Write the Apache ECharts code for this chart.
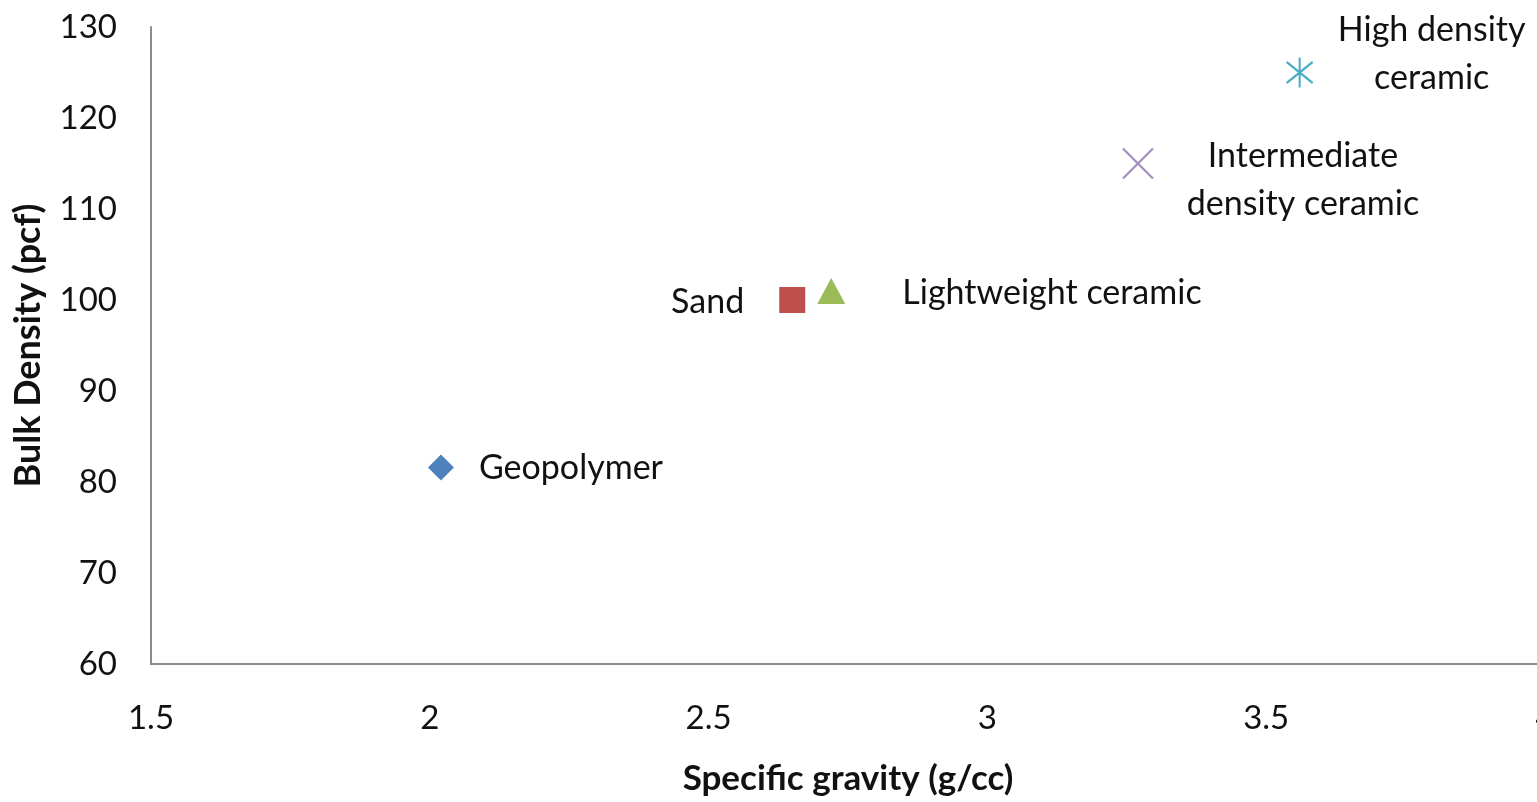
<!DOCTYPE html>
<html>
<head>
<meta charset="utf-8">
<title>Bulk density vs specific gravity</title>
<script src="https://cdn.jsdelivr.net/npm/echarts@6/dist/echarts.min.js"></script>
<style>
  html, body { margin: 0; padding: 0; background: #fff; }
  #chart { width: 1537px; height: 802px; }
</style>
</head>
<body>
<div id="chart"></div>
<script>
// Materials plotted: specific gravity (g/cc) vs bulk density (pcf)
const materials = ['Geopolymer', 'Sand', 'Lightweight ceramic', 'Intermediate\ndensity ceramic', 'High density\nceramic'];
const specificGravity = [2.02, 2.65, 2.72, 3.27, 3.56];
const bulkDensity = [81.6, 100, 101, 115, 125];

const FONT = 'Lato, "Open Sans", sans-serif';
const colors = ['#4f81bd', '#c0504d', '#9bbb59', '#a48dc3', '#4bacc6'];
const symbols = [
  'diamond',
  'rect',
  'triangle',
  'path://M0,0 L10,10 M0,10 L10,0',
  'path://M5,0 L5,10 M0.8,1.5 L9.2,8.5 M0.8,8.5 L9.2,1.5'
];
const sizes = [[26, 26], [26, 26], [28, 26], [30, 30], [26, 30]];
const stroked = [false, false, false, true, true];
// label placement relative to each marker centre
const labelOffsets = [[38, 1], [-48, 2], [71, 2], [165, 17], [132, -18]];
const labelAligns = ['left', 'right', 'left', 'center', 'center'];

const series = materials.map((name, i) => ({
  type: 'scatter',
  name: name,
  data: [[specificGravity[i], bulkDensity[i]]],
  symbol: symbols[i],
  symbolSize: sizes[i],
  itemStyle: stroked[i]
    ? { color: 'none', borderColor: colors[i], borderWidth: 2.2, opacity: 1 }
    : { color: colors[i], opacity: 1 },
  label: {
    show: true,
    position: 'inside',
    formatter: name,
    offset: labelOffsets[i],
    align: labelAligns[i],
    verticalAlign: 'middle',
    fontFamily: FONT,
    fontSize: 34,
    lineHeight: 48,
    color: '#111'
  }
}));

const chart = echarts.init(document.getElementById('chart'));
chart.setOption({
  backgroundColor: '#fff',
  animation: false,
  grid: { left: 151, top: 27, right: -8, bottom: 138, outerBoundsMode: 'none', containLabel: false },
  xAxis: {
    type: 'value',
    min: 1.5, max: 4, interval: 0.5,
    name: 'Specific gravity (g/cc)',
    nameLocation: 'middle',
    nameGap: 97,
    nameTextStyle: { fontFamily: FONT, fontSize: 35, fontWeight: 'bold', color: '#111' },
    axisLine: { show: true, lineStyle: { color: '#8c8c8c', width: 2 } },
    axisTick: { show: false },
    splitLine: { show: false },
    axisLabel: { margin: 38, fontFamily: FONT, fontSize: 33, color: '#111' }
  },
  yAxis: {
    type: 'value',
    min: 60, max: 130, interval: 10,
    name: 'Bulk Density (pcf)',
    nameLocation: 'middle',
    nameGap: 105,
    nameRotate: 90,
    nameTextStyle: { fontFamily: FONT, fontSize: 36, fontWeight: 'bold', color: '#111' },
    axisLine: { show: true, lineStyle: { color: '#8c8c8c', width: 2 } },
    axisTick: { show: false },
    splitLine: { show: false },
    axisLabel: { margin: 34, fontFamily: FONT, fontSize: 33, color: '#111' }
  },
  series: series
});
</script>
</body>
</html>
